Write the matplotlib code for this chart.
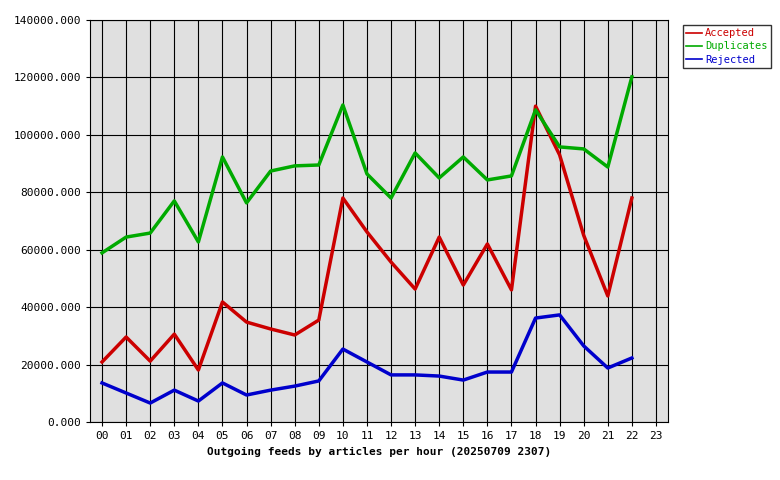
import matplotlib
matplotlib.use("Agg")
import matplotlib.pyplot as plt

hours = ["%02d" % h for h in range(24)]
accepted = [20900,29600,21200,30600,18100,41800,34800,32400,30300,35500,78000,66200,55700,46300,64400,47700,62000,46000,110000,93000,65000,43900,78000]
duplicates = [58900,64400,65800,77000,62700,92300,76300,87400,89200,89500,110400,86400,78000,93700,85000,92300,84300,85700,108700,95800,95100,88800,120200]
rejected = [13600,10100,6600,11100,7300,13600,9400,11100,12500,14300,25400,20900,16400,16400,16000,14600,17400,17400,36200,37300,26500,18800,22300]
series = [("Accepted", accepted, "#cc0000"), ("Duplicates", duplicates, "#00aa00"), ("Rejected", rejected, "#0000cc")]

plt.rcParams['font.family'] = ['DejaVu Sans Mono']
fig = plt.figure(figsize=(7.8, 4.8), dpi=100)
ax = fig.add_axes([90/780, 58/480, 578/780, 402/480])
ax.set_facecolor("#e0e0e0")
x = list(range(len(accepted)))
for name, vals, c in series:
    ax.plot(x, vals, color=c, lw=2.5, label=name)
ax.set_xlim(-0.5, 23.5)
ax.set_ylim(0, 140000)
ax.set_xticks(range(24))
ax.set_xticklabels(hours, fontsize=8)
yt = list(range(0, 140001, 20000))
ax.set_yticks(yt)
ax.set_yticklabels(["%d.000" % v for v in yt], fontsize=8)
ax.grid(True, color="black", lw=0.8)
ax.set_axisbelow(True)
ax.tick_params(length=3)
ax.set_xlabel("Outgoing feeds by articles per hour (20250709 2307)", fontsize=8, fontweight="bold")
leg = fig.legend(loc="upper left", bbox_to_anchor=(678/780, 1-20/480), fontsize=7.5,
                 frameon=True, fancybox=False, edgecolor="black", handlelength=1.5,
                 borderpad=0.3, labelspacing=0.3, handletextpad=0.3)
for t, (_, _, c) in zip(leg.get_texts(), series):
    t.set_color(c)
for h in leg.get_lines():
    h.set_linewidth(1.2)
fig.savefig("out.png", dpi=100)
